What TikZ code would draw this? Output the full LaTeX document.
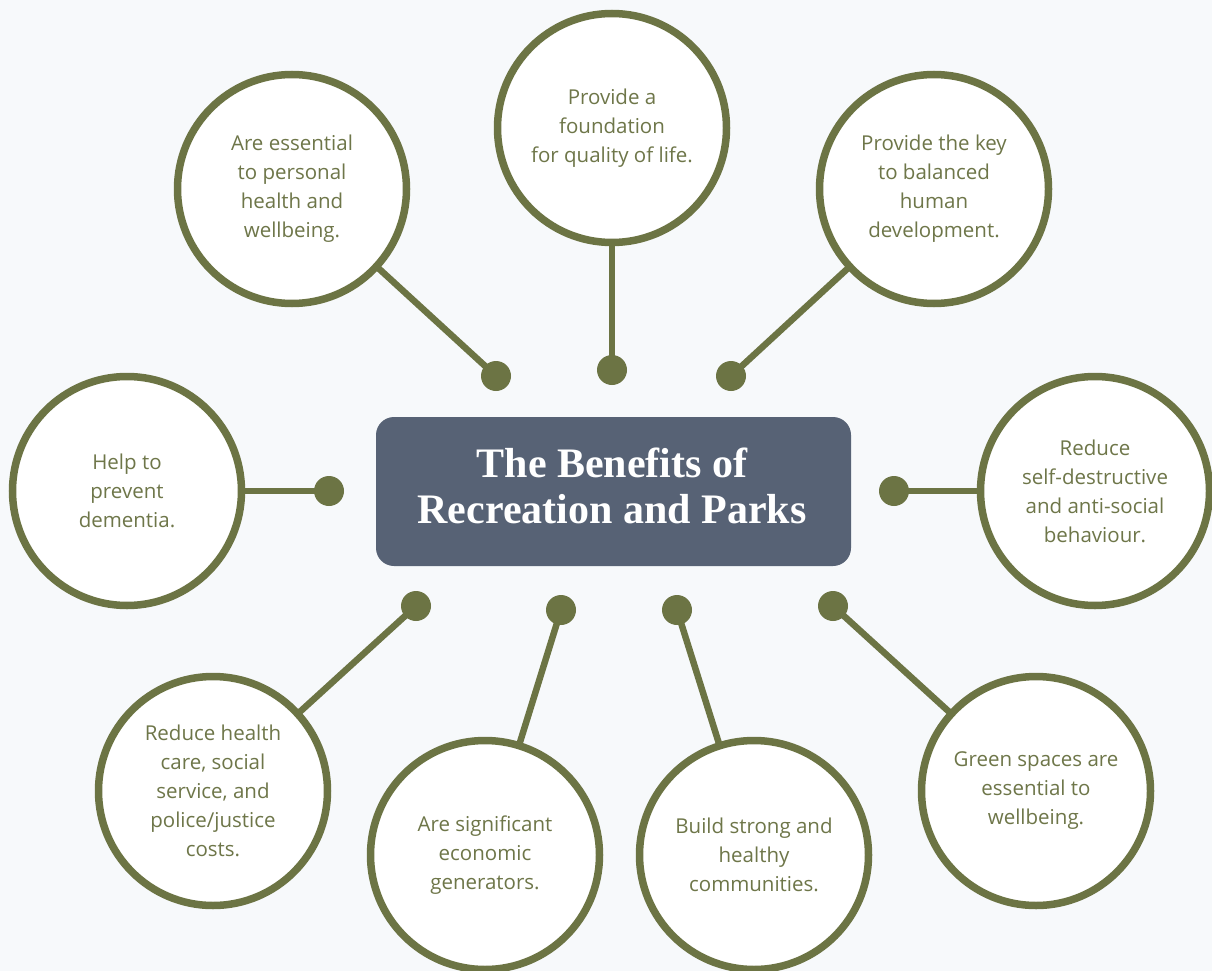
\documentclass[tikz,border=0pt]{standalone}
\usepackage{fontspec}
\setmainfont{Open Sans}
\newfontfamily\titlefont{Liberation Serif}
\definecolor{leaf}{HTML}{6C7444}
\definecolor{leaftext}{HTML}{6E7649}
\definecolor{slatebox}{HTML}{576275}
\definecolor{bgtint}{HTML}{F7F9FB}
\begin{document}
\begin{tikzpicture}[x=1pt,y=-1pt,
  bubble/.style={circle, draw=leaf, line width=7.5pt, fill=white, minimum size=229pt,
    inner sep=0pt, align=center, text=leaftext, font=\fontsize{20.5}{29}\selectfont},
  knob/.style={circle, fill=leaf, minimum size=30pt, inner sep=0pt},
  link/.style={draw=leaf, line width=6.5pt, shorten >=-5pt},
  titlebox/.style={rectangle, rounded corners=18pt, fill=slatebox, minimum width=475pt,
    minimum height=149pt, text=white},
  titletext/.style={align=center, text=white, inner sep=0pt,
    font=\titlefont\bfseries\fontsize{42}{46}\selectfont}]
\fill[bgtint] (0,0) rectangle (1212,971);
\useasboundingbox (0,0) rectangle (1212,971);

\node[titlebox] (title) at (613.5,491.5) {};
\node[titletext] (titlelabel) at (612,486) {The Benefits of\\Recreation and Parks};

\node[bubble] (c1) at (292,189) {Are essential\\to personal\\health and\\wellbeing.};
\node[bubble] (c2) at (612,128) {Provide a\\foundation\\for quality of life.};
\node[bubble] (c3) at (934,189) {Provide the key\\to balanced\\human\\development.};
\node[bubble] (c4) at (127,491) {Help to\\prevent\\dementia.};
\node[bubble] (c5) at (1095,491) {Reduce\\self-destructive\\and anti-social\\behaviour.};
\node[bubble] (c6) at (213,791) {Reduce health\\care, social\\service, and\\police/justice\\costs.};
\node[bubble] (c7) at (485,855) {Are significant\\economic\\generators.};
\node[bubble] (c8) at (754,855) {Build strong and\\healthy\\communities.};
\node[bubble] (c9) at (1036,791) {Green spaces are\\essential to\\wellbeing.};

\node[knob] (d1) at (496,376) {};
\node[knob] (d2) at (612,370) {};
\node[knob] (d3) at (731,376) {};
\node[knob] (d4) at (329,491) {};
\node[knob] (d5) at (894,491) {};
\node[knob] (d6) at (416,606) {};
\node[knob] (d7) at (561,610) {};
\node[knob] (d8) at (677,610) {};
\node[knob] (d9) at (833,606) {};

\foreach \i in {1,...,9}{\draw[link] (d\i.center) -- (c\i);}
\end{tikzpicture}
\end{document}
